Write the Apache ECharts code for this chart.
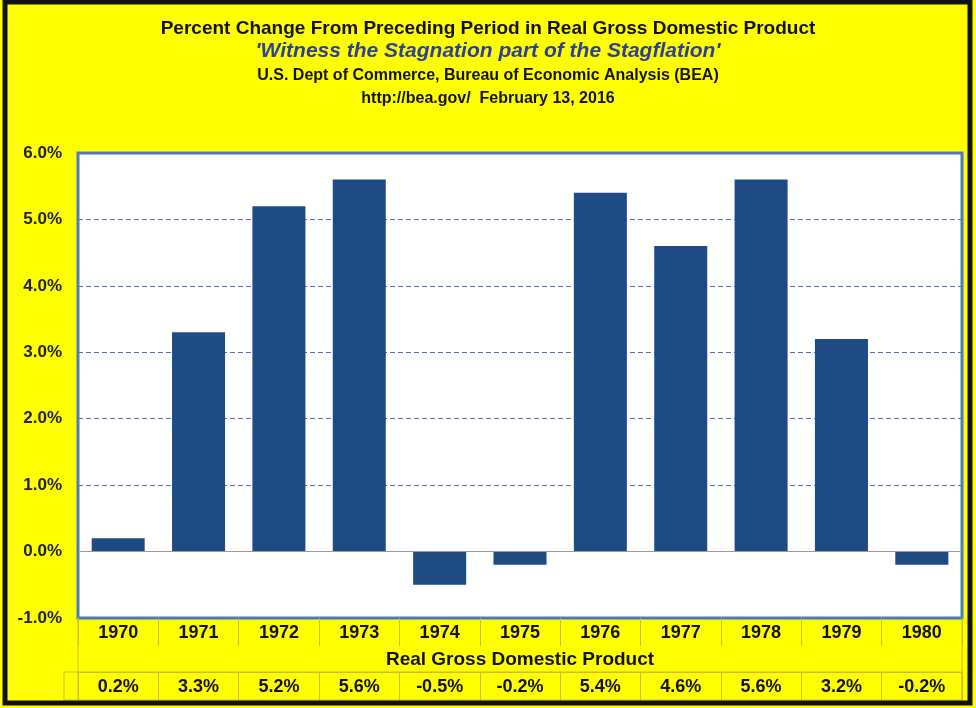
<!DOCTYPE html>
<html>
<head>
<meta charset="utf-8">
<script src="https://cdn.jsdelivr.net/npm/echarts@6/dist/echarts.min.js"></script>
<style>
  html, body { margin: 0; padding: 0; background: #ffff00; }
  #chart { width: 976px; height: 708px; }
</style>
</head>
<body>
<div id="chart"></div>
<script type="text/javascript">
  // years and real GDP percent change
  var years = ['1970', '1971', '1972', '1973', '1974', '1975', '1976', '1977', '1978', '1979', '1980'];
  var gdpChange = [0.2, 3.3, 5.2, 5.6, -0.5, -0.2, 5.4, 4.6, 5.6, 3.2, -0.2];
  var yTicks = { min: -1, max: 6, step: 1 };

  var tableLine = '#c9bd2a';
  var font = 'Liberation Sans, Arial, sans-serif';

  var myChart = echarts.init(document.getElementById('chart'));

  var option = {
    backgroundColor: '#ffff00',
    animation: false,
    title: [{
      text: 'Percent Change From Preceding Period in Real Gross Domestic Product',
      left: 'center', top: 14,
      textStyle: { fontFamily: font, fontSize: 19, fontWeight: 'bold', color: '#111' }
    }, {
      text: "'Witness the Stagnation part of the Stagflation'",
      left: 'center', top: 36,
      textStyle: { fontFamily: font, fontSize: 21, fontWeight: 'bold', fontStyle: 'italic', color: '#2b3f9c' }
    }, {
      text: 'U.S. Dept of Commerce, Bureau of Economic Analysis (BEA)',
      left: 'center', top: 63,
      textStyle: { fontFamily: font, fontSize: 16, fontWeight: 'bold', color: '#111' }
    }, {
      text: 'http://bea.gov/  February 13, 2016',
      left: 'center', top: 86,
      textStyle: { fontFamily: font, fontSize: 16, fontWeight: 'bold', color: '#111' }
    }],
    grid: {
      left: 78, right: 14, top: 153, bottom: 90,
      show: true,
      backgroundColor: '#ffffff',
      borderColor: '#4a7ebb',
      borderWidth: 3
    },
    xAxis: [{
      type: 'category',
      data: years,
      position: 'bottom',
      axisLine: { show: false, onZero: false },
      axisTick: { show: true, length: 28, lineStyle: { color: tableLine, width: 1 } },
      axisLabel: { margin: 6, fontFamily: font, fontSize: 18, fontWeight: 'bold', color: '#111' },
      name: 'Real Gross Domestic Product',
      nameLocation: 'middle',
      nameGap: 32,
      nameTextStyle: { fontFamily: font, fontSize: 19, fontWeight: 'bold', color: '#111' }
    }, {
      type: 'category',
      data: gdpChange.map(function (v) { return v.toFixed(1) + '%'; }),
      position: 'bottom',
      offset: 54,
      axisLine: { show: true, onZero: false, lineStyle: { color: tableLine, width: 1 } },
      axisTick: { show: true, length: 28, lineStyle: { color: tableLine, width: 1 } },
      axisLabel: { margin: 6, fontFamily: font, fontSize: 18, fontWeight: 'bold', color: '#111' }
    }],
    yAxis: {
      type: 'value',
      min: yTicks.min,
      max: yTicks.max,
      interval: yTicks.step,
      axisLine: { show: false },
      axisTick: { show: false },
      axisLabel: {
        margin: 16,
        fontFamily: font, fontSize: 17, fontWeight: 'bold', color: '#222',
        formatter: function (v) { return v.toFixed(1) + '%'; }
      },
      splitLine: { lineStyle: { color: '#4f6fce', type: [5, 3], width: 1 } }
    },
    series: [{
      type: 'bar',
      xAxisIndex: 0,
      data: gdpChange,
      barWidth: '66%',
      itemStyle: { color: '#1f4b85' },
      markLine: {
        silent: true,
        symbol: 'none',
        label: { show: false },
        lineStyle: { color: '#9a9a9a', type: 'solid', width: 1 },
        data: [{ yAxis: 0 }]
      }
    }],
    graphic: [{
      type: 'rect',
      shape: { x: 64, y: 672, width: 898, height: 28 },
      style: { fill: null, stroke: tableLine, lineWidth: 1 }
    }, {
      type: 'line',
      shape: { x1: 78, y1: 618, x2: 78, y2: 700 },
      style: { stroke: tableLine, lineWidth: 1 }
    }, {
      type: 'line',
      shape: { x1: 962, y1: 618, x2: 962, y2: 700 },
      style: { stroke: tableLine, lineWidth: 1 }
    }, {
      type: 'rect',
      shape: { x: 5, y: 2, width: 965, height: 701 },
      style: { fill: null, stroke: '#111', lineWidth: 5 }
    }]
  };

  myChart.setOption(option);
</script>
</body>
</html>
